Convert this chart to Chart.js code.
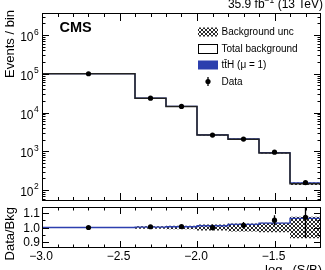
<!DOCTYPE html>
<html><head><meta charset="utf-8">
<script src="https://cdn.jsdelivr.net/npm/chart.js@4.4.0/dist/chart.umd.min.js"></script>
<style>
html,body{margin:0;padding:0;background:#fff;}
#wrap{position:relative;width:325px;height:270px;overflow:hidden;background:#fff;}
canvas{position:absolute;left:0;top:0;}
</style></head><body>
<div id="wrap"><canvas id="main" width="325" height="270"></canvas><canvas id="ratio" width="325" height="270"></canvas></div>
<script>
// ---- data ----
const binEdges = [-3.0, -2.4, -2.2, -2.0, -1.8, -1.6, -1.4, -1.2];
const binCenters = [-2.7, -2.3, -2.1, -1.9, -1.7, -1.5, -1.3];
const totalBkg = [100000, 23400, 14250, 2620, 2030, 900, 145];
const bkgRelUnc = [0.002, 0.008, 0.012, 0.02, 0.028, 0.033, 0.073];
const sigPlusBkgRatio = [1.000, 1.002, 1.005, 1.012, 1.022, 1.030, 1.062];
const dataEvents = [100000, 23500, 14350, 2620, 2060, 945, 155];
const dataEventsErr = [316, 153, 120, 51, 45, 31, 12];
const dataRatio = [1.000, 1.005, 1.007, 1.000, 1.015, 1.050, 1.070];
const dataRatioErr = [0.003, 0.007, 0.008, 0.02, 0.022, 0.033, 0.14];
const xMajorTicks = [-3.0, -2.5, -2.0, -1.5];
const xTickLabels = ['\u22123.0', '\u22122.5', '\u22122.0', '\u22121.5'];
const yLogTickExps = [2, 3, 4, 5, 6];
const ratioTicks = [0.9, 1.0, 1.1];
const ratioTickLabels = ['0.9', '1.0', '1.1'];
const legendLabels = ['Background unc', 'Total background', 'tt\u0304H (\u03bc = 1)', 'Data'];

const FONT = '"Liberation Sans", Arial, Helvetica, sans-serif';
const BLUE = '#2c3fae';

function makeHatch(){
  const c = document.createElement('canvas'); c.width = 4; c.height = 4;
  const g = c.getContext('2d');
  g.fillStyle = '#fff'; g.fillRect(0,0,4,4);
  g.fillStyle = '#2a2a2a';
  [[0,0],[1,1],[2,2],[3,3],[3,0],[2,1],[1,2],[0,3]].forEach(p=>g.fillRect(p[0],p[1],1,1));
  return document.createElement('canvas').getContext('2d').createPattern(c, 'repeat');
}
const hatch = makeHatch();

function steps(vals){
  return binEdges.map((e,i)=>({x:e, y:vals[Math.min(i, vals.length-1)]}));
}
const cr = v => Math.round(v) + 0.5;

function drawXTicks(ctx, a, x, majLen, minLen){
  ctx.beginPath();
  for (let k = -30; k <= -12; k++){
    const v = k/10;
    const isMaj = xMajorTicks.some(m=>Math.abs(m-v)<1e-9);
    const len = isMaj ? majLen : minLen;
    const px = cr(x.getPixelForValue(v));
    if (px <= a.left+1 || px >= a.right-1) continue;
    ctx.moveTo(px, a.bottom); ctx.lineTo(px, a.bottom-len);
    ctx.moveTo(px, a.top); ctx.lineTo(px, a.top+len);
  }
  ctx.stroke();
}
function drawFrame(ctx, a){
  ctx.strokeRect(cr(a.left), cr(a.top), Math.round(a.right-a.left)-1, Math.round(a.bottom-a.top)-1);
}
function errorBars(chart, dsIndex, errs){
  const {ctx, chartArea:a} = chart;
  const meta = chart.getDatasetMeta(dsIndex);
  const y = chart.scales.y;
  ctx.save();
  ctx.beginPath(); ctx.rect(a.left, a.top, a.right-a.left, a.bottom-a.top); ctx.clip();
  ctx.strokeStyle = '#000'; ctx.lineWidth = 1.3;
  ctx.beginPath();
  meta.data.forEach((pt, i)=>{
    const v = chart.data.datasets[dsIndex].data[i].y;
    const y1 = y.getPixelForValue(v + errs[i]);
    const y2 = y.getPixelForValue(v - errs[i]);
    ctx.moveTo(pt.x, y1); ctx.lineTo(pt.x, y2);
  });
  ctx.stroke();
  ctx.restore();
}

const mainPlugin = {
  id: 'mainDeco',
  afterDatasetsDraw(chart){ errorBars(chart, 4, dataEventsErr); },
  afterDraw(chart){
    const {ctx, chartArea:a, scales:{x, y}} = chart;
    ctx.save();
    ctx.strokeStyle = '#000'; ctx.lineWidth = 1;
    drawFrame(ctx, a);
    drawXTicks(ctx, a, x, 8, 4);
    ctx.beginPath();
    for (let n = 1; n <= 7; n++){
      for (let k = 1; k <= 9; k++){
        const v = k * Math.pow(10, n);
        if (v < y.min || v > y.max) continue;
        const py = cr(y.getPixelForValue(v));
        const len = k === 1 ? 7 : 3.5;
        ctx.moveTo(a.left, py); ctx.lineTo(a.left+len, py);
        ctx.moveTo(a.right, py); ctx.lineTo(a.right-len, py);
      }
    }
    ctx.stroke();
    ctx.fillStyle = '#000';
    yLogTickExps.forEach(e=>{
      const py = y.getPixelForValue(Math.pow(10, e));
      ctx.font = '12px ' + FONT; ctx.textAlign = 'right'; ctx.textBaseline = 'alphabetic';
      ctx.fillText('10', 33.5, py + 6);
      ctx.font = '8.5px ' + FONT; ctx.textAlign = 'left';
      ctx.fillText(String(e), 34, py - 0.5);
    });
    ctx.save(); ctx.translate(14, 10); ctx.rotate(-Math.PI/2);
    ctx.font = '13px ' + FONT; ctx.textAlign = 'right'; ctx.textBaseline = 'alphabetic';
    ctx.fillText('Events / bin', 0, 0); ctx.restore();
    ctx.font = 'bold 14.5px ' + FONT; ctx.textAlign = 'left';
    ctx.fillText('CMS', 59.5, 32);
    const p1 = '35.9 fb', p2 = '\u22121', p3 = ' (13 TeV)';
    ctx.font = '12px ' + FONT;
    const w1 = ctx.measureText(p1).width, w3 = ctx.measureText(p3).width;
    ctx.font = '8.5px ' + FONT;
    const w2 = ctx.measureText(p2).width;
    let sx = 323 - (w1 + w2 + w3);
    ctx.font = '12px ' + FONT; ctx.fillText(p1, sx, 7.5);
    ctx.font = '8.5px ' + FONT; ctx.fillText(p2, sx + w1, 3);
    ctx.font = '12px ' + FONT; ctx.fillText(p3, sx + w1 + w2, 7.5);
    const lx = 198, lw = 20, lh = 9, rows = [32, 48.5, 65, 81.5];
    ctx.fillStyle = hatch; ctx.fillRect(lx, rows[0]-lh/2, lw, lh);
    ctx.fillStyle = '#fff'; ctx.fillRect(lx, rows[1]-lh/2, lw, lh);
    ctx.strokeStyle = '#000'; ctx.lineWidth = 1;
    ctx.strokeRect(lx+0.5, Math.round(rows[1]-lh/2)+0.5, lw-1, lh);
    ctx.fillStyle = BLUE; ctx.fillRect(lx, rows[2]-lh/2, lw, lh);
    ctx.fillStyle = '#000';
    ctx.beginPath(); ctx.arc(lx+lw/2, rows[3], 2.6, 0, Math.PI*2); ctx.fill();
    ctx.lineWidth = 1.3; ctx.beginPath(); ctx.moveTo(lx+lw/2, rows[3]-4.5); ctx.lineTo(lx+lw/2, rows[3]+4.5); ctx.stroke();
    ctx.font = '10px ' + FONT; ctx.textAlign = 'left'; ctx.textBaseline = 'middle';
    legendLabels.forEach((t,i)=>ctx.fillText(t, 221.5, rows[i]+0.5));
    ctx.restore();
  }
};

const ratioPlugin = {
  id: 'ratioDeco',
  afterDatasetsDraw(chart){ errorBars(chart, 3, dataRatioErr); },
  afterDraw(chart){
    const {ctx, chartArea:a, scales:{x, y}} = chart;
    ctx.save();
    ctx.strokeStyle = '#000'; ctx.lineWidth = 1;
    drawFrame(ctx, a);
    drawXTicks(ctx, a, x, 7, 3.5);
    ctx.beginPath();
    for (let k = 86; k <= 114; k++){
      if (k % 5 !== 0) continue;
      const v = k/100;
      const py = cr(y.getPixelForValue(v));
      const len = (k % 10 === 0) ? 7 : 3.5;
      ctx.moveTo(a.left, py); ctx.lineTo(a.left+len, py);
      ctx.moveTo(a.right, py); ctx.lineTo(a.right-len, py);
    }
    ctx.stroke();
    ctx.fillStyle = '#000';
    ctx.font = '12px ' + FONT; ctx.textAlign = 'right'; ctx.textBaseline = 'alphabetic';
    ratioTicks.forEach((v,i)=>ctx.fillText(ratioTickLabels[i], 40, y.getPixelForValue(v) + 4.3));
    ctx.textAlign = 'center';
    xMajorTicks.forEach((v,i)=>ctx.fillText(xTickLabels[i], x.getPixelForValue(v) - 1, 259.5));
    ctx.save(); ctx.translate(14, 207); ctx.rotate(-Math.PI/2);
    ctx.font = '13px ' + FONT; ctx.textAlign = 'right';
    ctx.fillText('Data/Bkg', 0, 0); ctx.restore();
    const t1 = 'log', t2 = '10', t3 = '(S/B)';
    ctx.font = '13px ' + FONT;
    const w1 = ctx.measureText(t1).width, w3 = ctx.measureText(t3).width;
    ctx.font = '9px ' + FONT;
    const w2 = ctx.measureText(t2).width;
    const sx = 322 - (w1 + w2 + w3);
    ctx.textAlign = 'left';
    ctx.font = '13px ' + FONT; ctx.fillText(t1, sx, 273.5);
    ctx.font = '9px ' + FONT; ctx.fillText(t2, sx + w1, 276);
    ctx.font = '13px ' + FONT; ctx.fillText(t3, sx + w1 + w2, 273.5);
    ctx.restore();
  }
};

const common = {responsive:false, animation:false, events:[],
  plugins:{legend:{display:false}, tooltip:{enabled:false}}};

new Chart(document.getElementById('main'), {
  type: 'line',
  data: {datasets: [
    {data: steps(totalBkg.map((v,i)=>v*(1+bkgRelUnc[i]))), stepped:true, borderWidth:0, pointRadius:0, fill:'+1', backgroundColor:hatch, order:5},
    {data: steps(totalBkg.map((v,i)=>v*(1-bkgRelUnc[i]))), stepped:true, borderWidth:0, pointRadius:0, fill:false, order:6},
    {data: steps(totalBkg.map((v,i)=>v*sigPlusBkgRatio[i])), stepped:true, borderColor:BLUE, borderWidth:1.2, pointRadius:0, fill:false, order:3},
    {data: steps(totalBkg), stepped:true, borderColor:'#222', borderWidth:1.5, pointRadius:0, fill:false, order:2},
    {data: binCenters.map((x,i)=>({x, y:dataEvents[i]})), showLine:false, pointRadius:2.6, pointBackgroundColor:'#000', pointBorderWidth:0, borderColor:'#000', order:1}
  ]},
  options: Object.assign({}, common, {
    layout:{padding:{left:42, right:4, top:13, bottom:69}},
    scales:{x:{type:'linear', min:-3.0, max:-1.2, display:false},
            y:{type:'logarithmic', min:52, max:3.7e6, display:false}}
  }),
  plugins:[mainPlugin]
});

new Chart(document.getElementById('ratio'), {
  type: 'line',
  data: {datasets: [
    {data: steps(bkgRelUnc.map(u=>1+u)), stepped:true, borderWidth:0, pointRadius:0, fill:'+1', backgroundColor:hatch, order:5},
    {data: steps(bkgRelUnc.map(u=>1-u)), stepped:true, borderWidth:0, pointRadius:0, fill:false, order:6},
    {data: steps(sigPlusBkgRatio), stepped:true, borderColor:BLUE, borderWidth:1.3, pointRadius:0, fill:false, order:3},
    {data: binCenters.map((x,i)=>({x, y:dataRatio[i]})), showLine:false, pointRadius:2.6, pointBackgroundColor:'#000', pointBorderWidth:0, borderColor:'#000', order:1}
  ]},
  options: Object.assign({}, common, {
    layout:{padding:{left:42, right:4, top:207, bottom:22}},
    scales:{x:{type:'linear', min:-3.0, max:-1.2, display:false},
            y:{type:'linear', min:0.86, max:1.14, display:false}}
  }),
  plugins:[ratioPlugin]
});
</script>
</body></html>
